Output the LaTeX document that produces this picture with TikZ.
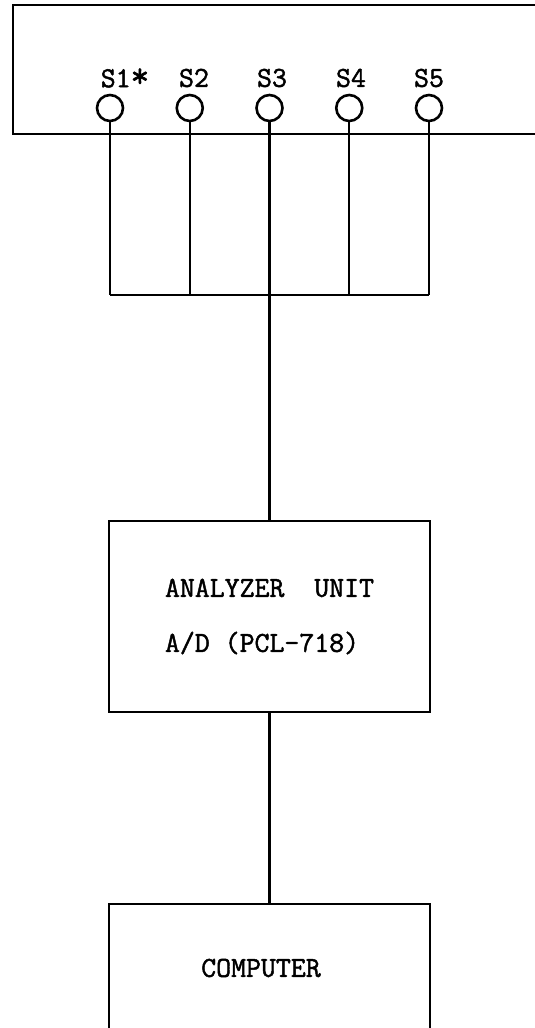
\documentclass[tikz,border=0pt]{standalone}
\usepackage{fontspec}
\newfontfamily\unitfont{Latin Modern Mono}[FakeBold=1.6]
\begin{document}
\begin{tikzpicture}[x=0.5pt,y=-0.5pt,
	port/.style={draw,circle,line width=1.3pt,minimum size=13pt,inner sep=0pt},
	lbl/.style={font=\unitfont\fontsize{14.5}{17}\selectfont},
	unitbox/.style={draw,line width=1.2pt,minimum width=160.5pt,minimum height=95.5pt,
		align=left,font=\unitfont\fontsize{14.5}{27.5}\selectfont}]
		\useasboundingbox (0,0) rectangle (535,1028);
		%Frame of the sensor panel, open to the right
		\draw[line width=1.2pt] (535,5)--(13,5)--(13,134)--(535,134);
		%Sensor ports and their labels
		\foreach \n/\x/\lx/\t in {1/110/125/S1{\fontsize{18}{18}\selectfont*},2/189.75/194/S2,3/269.5/272/S3,4/349.25/351/S4,5/429/429/S5} {
			\node[port] (s\n) at (\x,108) {};
			\node[lbl] (t\n) at (\lx,78) {\t};
		}
		%Common bus
		\coordinate (bus) at (0,295);
		\foreach \n in {1,...,5} \draw[line width=1.2pt] (s\n.south) -- (s\n.south |- bus);
		\draw[line width=1.2pt] (s1.south |- bus) -- (s5.south |- bus);
		%Analyzer unit
		\node[unitbox] (adc) at (269.5,616.5) {ANALYZER\ \ UNIT\\A/D (PCL-718)};
		\draw[line width=1.2pt] (s3.south |- bus) -- (adc.north);
		%Computer, open at the bottom
		\coordinate (pctop) at (269.5,904);
		\draw[line width=1.2pt] (adc.south) -- (pctop);
		\draw[line width=1.2pt] (109,1028) |- (pctop) -| (430,1028);
		\node[lbl] (pc) at (261,968) {COMPUTER};
\end{tikzpicture}
\end{document}
